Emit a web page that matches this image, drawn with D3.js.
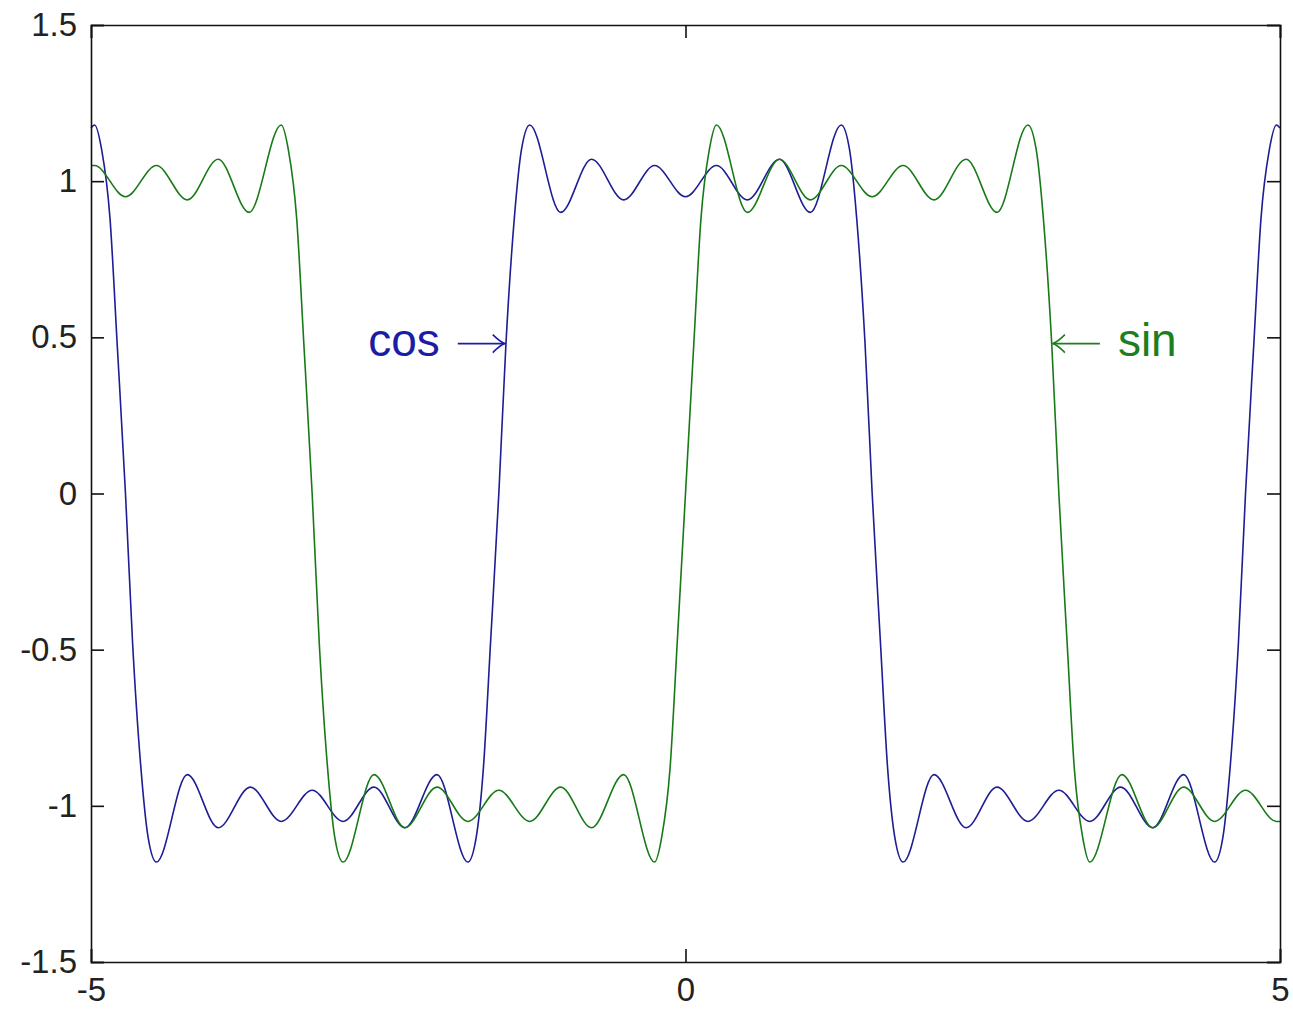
<!DOCTYPE html>
<html lang="en">
<head>
	<meta charset="UTF-8">
	<title>Square wave partial sums</title>
	<script src="https://d3js.org/d3.v7.min.js"></script>
	<style>
		body { margin: 0; background: #fff; }
		text { font-family: "Liberation Sans", Arial, sans-serif; }
	</style>
</head>
<body>
	<script type="text/javascript">
		// values: extrema and points along each jump
		const cosX = [
			-5.00, -4.97, -4.91, -4.84, -4.78, -4.71, -4.65, -4.58, -4.52, -4.45,
			-4.19, -3.93, -3.66, -3.40, -3.14, -2.88, -2.62, -2.36, -2.09,
			-1.83, -1.76, -1.70, -1.64, -1.57, -1.51, -1.44, -1.38, -1.31,
			-1.05, -0.79, -0.52, -0.26, 0.00, 0.26, 0.52, 0.79, 1.05,
			1.31, 1.38, 1.44, 1.51, 1.57, 1.64, 1.70, 1.76, 1.83,
			2.09, 2.36, 2.62, 2.88, 3.14, 3.40, 3.66, 3.93, 4.19,
			4.45, 4.52, 4.58, 4.65, 4.71, 4.78, 4.84, 4.91, 4.97, 5.00
		];
		const cosY = [
			1.17, 1.18, 1.10, 0.88, 0.48, 0.00, -0.48, -0.88, -1.10, -1.18,
			-0.90, -1.07, -0.94, -1.05, -0.95, -1.05, -0.94, -1.07, -0.90,
			-1.18, -1.10, -0.88, -0.48, 0.00, 0.48, 0.88, 1.10, 1.18,
			0.90, 1.07, 0.94, 1.05, 0.95, 1.05, 0.94, 1.07, 0.90,
			1.18, 1.10, 0.88, 0.48, 0.00, -0.48, -0.88, -1.10, -1.18,
			-0.90, -1.07, -0.94, -1.05, -0.95, -1.05, -0.94, -1.07, -0.90,
			-1.18, -1.10, -0.88, -0.48, 0.00, 0.48, 0.88, 1.10, 1.18, 1.17
		];

		const sinX = [
			-5.00, -4.97, -4.71, -4.45, -4.19, -3.93, -3.67,
			-3.40, -3.34, -3.27, -3.21, -3.14, -3.08, -3.01, -2.95, -2.88,
			-2.62, -2.36, -2.09, -1.83, -1.57, -1.31, -1.05, -0.79, -0.52,
			-0.26, -0.20, -0.13, -0.07, 0.00, 0.07, 0.13, 0.20, 0.26,
			0.52, 0.79, 1.05, 1.31, 1.57, 1.83, 2.09, 2.36, 2.62,
			2.88, 2.95, 3.01, 3.08, 3.14, 3.21, 3.27, 3.34, 3.40,
			3.67, 3.93, 4.19, 4.45, 4.71, 4.97, 5.00
		];
		const sinY = [
			1.05, 1.05, 0.95, 1.05, 0.94, 1.07, 0.90,
			1.18, 1.10, 0.88, 0.48, 0.00, -0.48, -0.88, -1.10, -1.18,
			-0.90, -1.07, -0.94, -1.05, -0.95, -1.05, -0.94, -1.07, -0.90,
			-1.18, -1.10, -0.88, -0.48, 0.00, 0.48, 0.88, 1.10, 1.18,
			0.90, 1.07, 0.94, 1.05, 0.95, 1.05, 0.94, 1.07, 0.90,
			1.18, 1.10, 0.88, 0.48, 0.00, -0.48, -0.88, -1.10, -1.18,
			-0.90, -1.07, -0.94, -1.05, -0.95, -1.05, -1.05
		];

		const xTicks = [-5, 0, 5];
		const yTicks = [-1.5, -1, -0.5, 0, 0.5, 1, 1.5];

		// label text, arrow tip (data coords) and which side the text sits on
		const labels = [
			{ text: "cos", x: -1.52, y: 0.48, side: "left", color: "#1c1ca6" },
			{ text: "sin", x: 3.09, y: 0.48, side: "right", color: "#1e7e1e" }
		];

		const width = 1293;
		const height = 1010;
		const margin = { top: 25, right: 13, bottom: 48, left: 91 };
		const tickLen = 13;

		const xScale = d3.scaleLinear()
			.domain([-5, 5])
			.range([margin.left, width - margin.right]);

		const yScale = d3.scaleLinear()
			.domain([-1.5, 1.5])
			.range([height - margin.bottom, margin.top]);

		const svg = d3.select("body")
			.append("svg")
			.attr("width", width)
			.attr("height", height);

		const line = d3.line()
			.x((d) => xScale(d[0]))
			.y((d) => yScale(d[1]))
			.curve(d3.curveMonotoneX);

		const series = [
			{ pts: d3.zip(cosX, cosY), color: "#1d1d94" },
			{ pts: d3.zip(sinX, sinY), color: "#177a17" }
		];

		svg.selectAll("path.series")
			.data(series)
			.enter()
			.append("path")
			.attr("class", "series")
			.attr("d", (d) => line(d.pts))
			.attr("fill", "none")
			.attr("stroke", (d) => d.color)
			.attr("stroke-width", 1.6);

		// axes with inward ticks on all four sides (box style)
		const fmt = (d) => String(d);
		svg.append("g")
			.attr("transform", `translate(0,${height - margin.bottom})`)
			.call(d3.axisBottom(xScale).tickValues(xTicks).tickSize(-tickLen).tickPadding(16).tickFormat(fmt));
		svg.append("g")
			.attr("transform", `translate(0,${margin.top})`)
			.call(d3.axisTop(xScale).tickValues(xTicks).tickSize(-tickLen).tickFormat(""));
		svg.append("g")
			.attr("transform", `translate(${margin.left},0)`)
			.call(d3.axisLeft(yScale).tickValues(yTicks).tickSize(-tickLen).tickPadding(14).tickFormat(fmt));
		svg.append("g")
			.attr("transform", `translate(${width - margin.right},0)`)
			.call(d3.axisRight(yScale).tickValues(yTicks).tickSize(-tickLen).tickFormat(""));

		svg.selectAll(".domain, .tick line")
			.attr("stroke", "#111")
			.attr("stroke-width", 1.6);
		svg.selectAll(".tick text")
			.attr("font-size", "33px")
			.attr("fill", "#222")
			.attr("font-family", "'Liberation Sans', Arial, sans-serif");

		// annotations: text plus a thin arrow pointing at the curve
		const arrowLen = 47;
		labels.forEach((l) => {
			const tx = xScale(l.x);
			const ty = yScale(l.y);
			const dir = l.side === "left" ? -1 : 1;
			const tail = tx + dir * arrowLen;
			const g = svg.append("g").attr("stroke", l.color).attr("stroke-width", 1.6).attr("fill", "none");
			g.append("line").attr("x1", tail).attr("y1", ty).attr("x2", tx).attr("y2", ty);
			g.append("path")
				.attr("d", `M${tx + dir * 12},${ty - 9} Q${tx + dir * 5},${ty - 2} ${tx},${ty} Q${tx + dir * 5},${ty + 2} ${tx + dir * 12},${ty + 9}`);
			svg.append("text")
				.attr("x", tail + dir * 18)
				.attr("y", ty + 12)
				.attr("text-anchor", l.side === "left" ? "end" : "start")
				.attr("font-size", "46px")
				.attr("fill", l.color)
				.text(l.text);
		});
	</script>
</body>
</html>
